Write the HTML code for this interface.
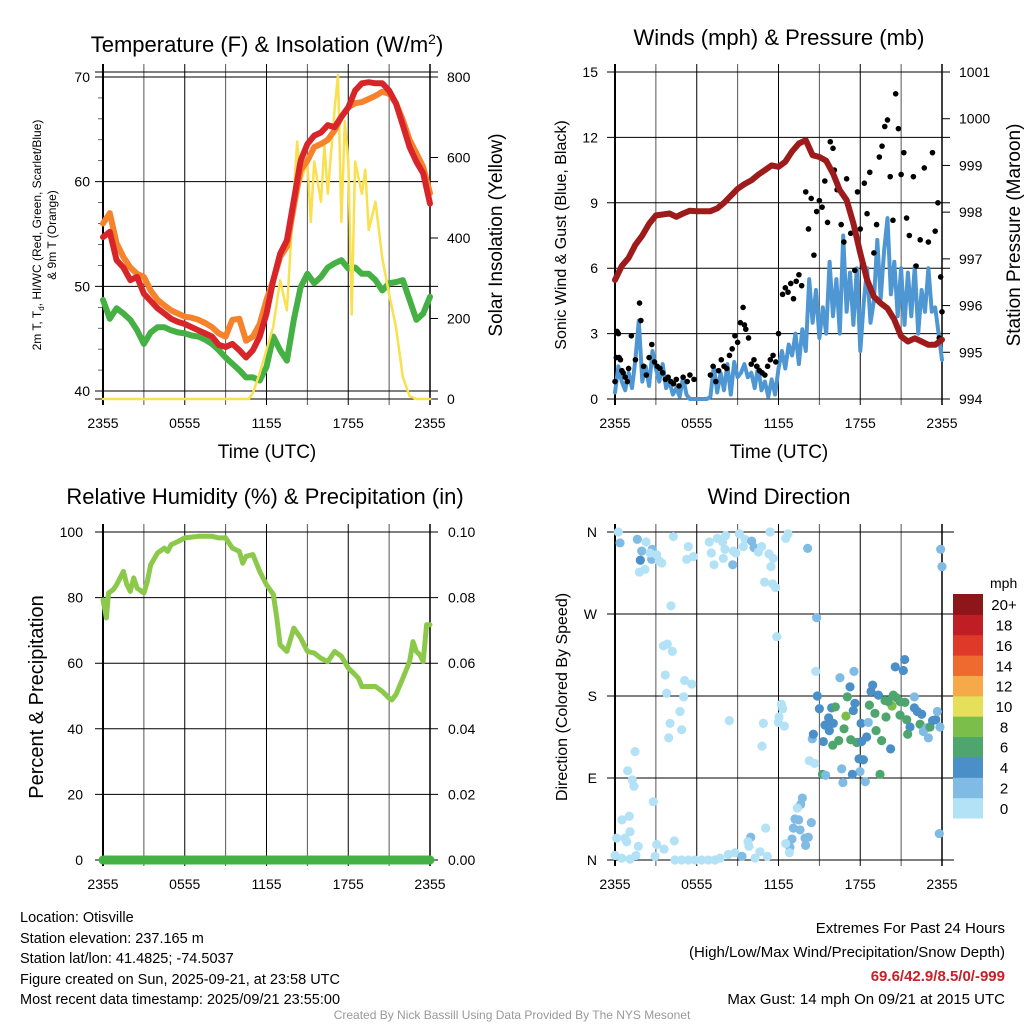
<!DOCTYPE html>
<html><head><meta charset="utf-8"><style>
body{margin:0;background:#fff}
svg{display:block;font-family:"Liberation Sans",sans-serif}
</style></head><body>
<svg id="s" width="1024" height="1024" viewBox="0 0 1024 1024" xmlns="http://www.w3.org/2000/svg">
<rect width="1024" height="1024" fill="#fff"/>
<g id="g1"></g>
<g id="g2"></g>
<g id="g3"></g>
<g id="g4"></g>
<text x="267" y="52" font-size="22" text-anchor="middle">Temperature (F) &amp; Insolation (W/m<tspan dy="-8" font-size="14">2</tspan><tspan dy="8">)</tspan></text>
<text x="779" y="45" font-size="22" text-anchor="middle">Winds (mph) &amp; Pressure (mb)</text>
<text x="265" y="504" font-size="22" text-anchor="middle">Relative Humidity (%) &amp; Precipitation (in)</text>
<text x="779" y="504" font-size="22" text-anchor="middle">Wind Direction</text>
<text x="267" y="458" font-size="19" text-anchor="middle">Time (UTC)</text>
<text x="779" y="458" font-size="19" text-anchor="middle">Time (UTC)</text>
<text transform="translate(41,235) rotate(-90)" font-size="12" text-anchor="middle">2m T, T<tspan font-size="8" dy="3">d</tspan><tspan dy="-3">, HI/WC (Red, Green, Scarlet/Blue)</tspan></text>
<text transform="translate(56,235) rotate(-90)" font-size="12" text-anchor="middle">&amp; 9m T (Orange)</text>
<text transform="translate(502,235) rotate(-90)" font-size="19" text-anchor="middle">Solar Insolation (Yellow)</text>
<text transform="translate(566,235) rotate(-90)" font-size="16" text-anchor="middle">Sonic Wind &amp; Gust (Blue, Black)</text>
<text transform="translate(1020,235) rotate(-90)" font-size="19" text-anchor="middle">Station Pressure (Maroon)</text>
<text transform="translate(43,697) rotate(-90)" font-size="20" text-anchor="middle">Percent &amp; Precipitation</text>
<text transform="translate(567,697) rotate(-90)" font-size="16" text-anchor="middle">Direction (Colored By Speed)</text>
<g font-size="14.5">
<text x="20" y="922">Location: Otisville</text>
<text x="20" y="943">Station elevation: 237.165 m</text>
<text x="20" y="963">Station lat/lon: 41.4825; -74.5037</text>
<text x="20" y="984">Figure created on Sun, 2025-09-21, at 23:58 UTC</text>
<text x="20" y="1004">Most recent data timestamp: 2025/09/21 23:55:00</text>
</g>
<g font-size="15" text-anchor="end">
<text x="1005" y="933">Extremes For Past 24 Hours</text>
<text x="1005" y="957">(High/Low/Max Wind/Precipitation/Snow Depth)</text>
<text x="1005" y="981" fill="#c8202a" font-weight="bold">69.6/42.9/8.5/0/-999</text>
<text x="1005" y="1004">Max Gust: 14 mph On 09/21 at 2015 UTC</text>
</g>
<text x="512" y="1019" font-size="12" fill="#999" text-anchor="middle">Created By Nick Bassill Using Data Provided By The NYS Mesonet</text>
</svg>
<script>
// ---- data (hours since 2355 UTC) ----
const tHours=[0,0.5,1,1.5,2,2.5,3,3.5,4,4.5,5,5.5,6,6.5,7,7.5,8,8.5,9,9.5,10,10.5,11,11.5,12,12.5,13,13.5,14,14.5,15,15.5,16,16.5,17,17.5,18,18.5,19,19.5,20,20.5,21,21.5,22,22.5,23,23.5,24];
const tempRed=[54.7,55.2,52.5,51.8,50.6,50.9,49.3,48.6,47.9,47.4,46.9,46.6,46.4,46.1,45.8,45.5,45.2,44.4,44.2,44.5,43.9,43.2,43.9,45.2,47.4,50.6,53.1,54.4,58.2,62,63.6,64.4,64.7,65.4,65.2,66.2,67.1,68.7,69.4,69.5,69.4,69.4,68.7,67.5,65.4,63.3,61.9,60.8,57.9];
const temp9m=[56,57,54.1,52.8,51.8,51.2,50.9,49.6,48.7,48.2,47.7,47.4,47.1,47,46.8,46.5,46.1,45.5,45.2,46.8,46.9,44.8,45.2,46.4,48.7,50.6,52.8,53.8,57.6,61.1,62,63.3,63.6,64,64.9,66.2,67.1,67.5,67.6,67.9,68.2,68.6,68.4,67.5,65.9,64,62.7,61.4,58.9];
const dewpt=[48.7,46.9,47.9,47.4,46.8,45.8,44.5,45.6,46.1,46.1,45.8,45.6,45.5,45.3,45.2,44.9,44.5,43.9,43.2,42.6,42,41.3,41.3,41,42.3,45.2,43.9,42.9,46.8,49.9,51.2,50.3,50.9,51.8,52.2,52.5,51.7,51.8,51.2,51.2,50.6,49.6,50.3,50.4,50.6,48.7,46.8,47.4,49];
const solarHours=[0,10.7,11,11.5,12,12.5,13,13.5,14,14.25,14.5,15,15.25,15.5,16,16.25,16.5,17,17.25,17.5,17.75,18,18.25,18.5,18.75,19,19.25,19.5,20,20.5,21,21.5,22,22.5,23,24];
const solar=[0,0,15,64,122,180,295,220,510,640,540,590,440,590,490,630,510,720,805,440,690,590,210,590,550,510,570,420,490,350,260,180,55,7,0,0];
const tempTicks=[40,50,60,70];
const solarTicks=[0,200,400,600,800];
const timeTicks=["2355","0555","1155","1755","2355"];

const presHours=[0,0.5,1,1.5,2,2.5,3,3.5,4,4.5,5,5.5,6,6.5,7,7.5,8,8.5,9,9.5,10,10.5,11,11.5,12,12.5,13,13.5,14,14.5,15,15.5,16,16.5,17,17.5,18,18.5,19,19.5,20,20.5,21,21.5,22,22.5,23,23.5,24];
const pressure=[996.55,996.85,997.02,997.3,997.5,997.75,997.93,997.95,997.97,997.9,997.97,998.03,998.02,998.02,998.02,998.08,998.2,998.35,998.5,998.6,998.68,998.8,998.9,999.0,998.97,999.08,999.3,999.47,999.54,999.22,999.18,999.1,998.83,998.47,998.26,997.76,997.12,996.55,996.19,996.05,995.94,995.7,995.34,995.23,995.3,995.23,995.16,995.16,995.27];
const windHours=[0,0.25,0.5,0.75,1,1.25,1.5,1.75,2,2.25,2.5,2.75,3,3.25,3.5,3.75,4,4.25,4.5,4.75,5,5.25,5.5,5.75,6,6.25,6.5,6.75,7,7.25,7.5,7.75,8,8.25,8.5,8.75,9,9.25,9.5,9.75,10,10.25,10.5,10.75,11,11.25,11.5,11.75,12,12.25,12.5,12.75,13,13.25,13.5,13.75,14,14.25,14.5,14.75,15,15.25,15.5,15.75,16,16.25,16.5,16.75,17,17.25,17.5,17.75,18,18.25,18.5,18.75,19,19.25,19.5,19.75,20,20.25,20.5,20.75,21,21.25,21.5,21.75,22,22.25,22.5,22.75,23,23.25,23.5,23.75,24];
const windSpd=[0.3,1.5,0.8,0.4,1.2,0.5,1.8,3.6,0.8,1.5,0.6,2.2,1.4,0.8,1.6,0.5,0.8,0.2,0.5,0.1,1.0,0.2,0,0,0,0,0,0,0.1,1.5,0.3,1.2,0.4,1.6,0.2,1.7,1.0,1.2,1.6,1.0,1.2,0.5,1.5,0.4,0.8,0.1,0.9,0.2,1.4,2.2,1.4,2.5,2.0,3.0,1.6,3.2,2.2,5.5,3.5,5.0,2.8,4.2,3.0,6.3,3.8,5.5,3.0,7.5,4.0,5.8,3.4,6.0,2.2,4.4,6.0,3.5,4.5,7.3,4.6,6.8,8.3,4.8,6.3,3.8,6.0,3.4,5.8,3.8,6.1,3.0,5.0,4.0,6.0,4.0,4.2,3.0,1.8];
const gustHours=[0,0.1,0.15,0.25,0.3,0.4,0.5,0.6,0.75,0.9,1.0,1.2,1.5,1.8,1.9,2.1,2.3,2.5,2.7,2.9,3.1,3.3,3.5,3.7,3.9,4.1,4.3,4.5,4.7,5.0,5.3,5.5,5.8,7.0,7.2,7.4,7.6,7.8,8.0,8.2,8.4,8.6,8.8,9.0,9.2,9.4,9.5,9.6,9.8,10.0,10.2,10.4,10.6,10.8,11.0,11.2,11.4,11.6,11.8,12.0,12.3,12.5,12.7,12.9,13.1,13.3,13.5,13.7,14.0,14.2,14.4,14.6,14.8,15.0,15.2,15.4,15.6,15.8,16.0,16.1,16.3,16.6,16.8,17.0,17.3,17.6,17.8,18.0,18.3,18.5,18.7,19.0,19.2,19.4,19.6,19.8,20.0,20.2,20.4,20.6,20.8,21.0,21.2,21.4,21.6,21.9,22.1,22.4,22.7,23.0,23.3,23.5,23.7,23.9,24.0,23.8];
const gustSpd=[0.8,1.9,3.1,3.0,1.9,1.8,1.3,1.2,1.0,0.8,1.4,2.9,1.8,4.4,3.6,1.5,1.1,1.9,2.5,1.7,1.5,1.4,1.2,0.9,1.0,0.8,0.7,0.9,0.6,1.0,0.8,1.1,0.9,1.1,1.5,0.8,1.3,1.8,1.5,1.4,2.0,2.3,2.9,2.6,3.5,4.2,3.4,3.2,2.8,1.6,1.8,1.5,1.3,1.2,1.1,1.5,1.8,2.0,1.7,3.0,4.8,5.1,4.9,5.3,4.6,5.4,5.7,5.2,9.5,7.8,9.2,6.6,8.6,9.1,8.8,10.0,8.1,11.8,11.5,10.5,9.6,8.0,7.2,10.1,7.6,5.9,9.5,7.8,9.9,8.5,10.4,6.7,8.0,11.1,11.6,12.5,12.8,10.2,8.2,14.0,12.4,10.3,11.3,8.3,7.5,10.2,6.1,7.3,10.6,7.2,11.3,7.7,9.0,5.6,4.0,2.8];
const windTicks=[0,3,6,9,12,15];
const presTicks=[994,995,996,997,998,999,1000,1001];

const rhHours=[0,0.25,0.4,0.75,1,1.5,1.75,2,2.25,2.5,3,3.25,3.5,4,4.5,4.75,5,5.5,6,7,8,8.5,9,9.5,10,10.25,10.5,11,11.5,12,12.5,12.75,13,13.5,14,14.5,15,15.5,16,16.5,17,17.5,18,18.5,18.75,19,19.5,20,20.5,21,21.2,21.5,22,22.5,22.75,23,23.25,23.5,23.75,24];
const rh=[79.3,73.8,81.4,82.4,83.9,88,84,81.9,86,82.9,81.4,84.9,90,93.6,95.1,94.1,96.1,97.1,98.2,98.7,98.7,98.2,98.2,95.1,94.1,90.5,92.6,93.1,88,83.9,81,74,65.6,63.6,70.7,67.7,63.6,63.1,61.5,60.5,63.6,62.1,58.5,56.5,55.4,52.9,52.9,52.9,51.4,49.3,48.8,50.4,55.4,60.5,66.6,63.6,62.6,60.5,71.7,71.7];
const precipHours=[0,24];
const precip=[0,0];
const rhTicks=[0,20,40,60,80,100];
const precipTicks=["0.00","0.02","0.04","0.06","0.08","0.10"];

const dirHours=[0.24,0.37,1.64,2.28,1.96,2.74,1.86,2.69,3.06,3.25,3.43,1.79,2.2,2.57,4.28,5.38,5.26,5.75,4.11,3.55,3.84,4.21,3.69,5.11,5.63,3.79,5.04,4.77,4.04,4.89,3.94,1.47,0.93,1.27,1.39,2.81,0.51,1.05,1.1,0.12,0.73,0.86,1.71,3.06,3.6,4.35,0,0.49,1.1,1.54,2.94,4.4,4.89,5.38,5.87,6.36,6.85,7.34,7.71,8.32,8.81,9.32,9.96,9.83,10.28,10.64,11.18,11.06,9.76,
6.92,7.51,8.12,7.9,7.07,7.95,7.27,8.64,8.07,8.69,9.13,9.54,10.03,10.2,9.42,10.76,8.86,10.52,11.38,11.3,11.62,11.45,10.98,11.57,11.79,12.7,12.53,14.14,11.87,8.39,10.89,10.79,12.21,12.31,12.04,11.99,12.43,
13.75,13.63,13.38,13.21,13.48,13.09,13.58,12.99,12.84,12.53,12.8,13.95,14.19,13.99,14.41,14.8,14.73,14.26,14.65,14.48,
14.56,14.85,15.0,15.68,15.41,15.29,15.9,16.02,15.73,16.17,15.98,16.42,16.95,16.81,16.51,17.25,17.54,17.05,17.61,17.49,17.3,17.74,18.1,18.47,18.06,18.59,17.91,18.23,17.98,17.42,16.73,16.64,15.22,15.46,18.37,19.45,18.91,18.79,19.33,18.67,19.08,19.16,19.57,20.23,19.82,19.89,20.43,20.33,20.57,21.16,21.26,20.67,20.92,21.28,21.41,21.65,21.48,21.97,21.97,22.39,22.19,22.51,22.87,22.63,23.0,23.12,23.31,23.54,23.66,23.85,23.9,24.0,23.8,20.92,20.06];
const dirDeg=[360,348,352,349,339,341,329,330,335,328,326,316,319,337,355,344,330,333,279,235,237,229,203,197,193,183,179,163,150,143,134,119,98,88,81,64,44,48,31,24,24,20,15,17,12,21,5,2,1,5,4,0,0,0,0,0,0,0,2,6,8,4,25,15,2,9,4,35,20,
349,353,356,349,337,331,324,324,341,339,358,352,350,343,344,344,337,338,360,336,331,322,305,303,299,358,353,342,245,153,150,125,171,166,157,151,147,
68,61,57,45,44,35,33,23,14,18,8,24,25,16,41,266,207,109,106,133,
138,180,166,156,148,130,167,150,142,168,126,131,158,144,200,190,207,179,172,164,132,129,130,135,150,151,111,110,97,94,85,100,94,93,86,94,192,185,181,170,161,142,131,122,175,157,181,169,212,208,220,178,159,173,154,146,138,179,167,149,163,160,145,141,134,146,153,154,163,146,341,322,29,174,174];
const dirSpd=[0,2,2,0,2,2,4,2,0,0,0,0,0,0,0,0,0,0,0,0,0,0,0,0,0,0,0,0,0,0,0,0,0,0,0,0,0,0,0,0,0,0,0,0,0,0,0,0,0,0,0,0,0,0,0,0,0,0,0,0,0,2,2,0,0,0,0,0,0,
0,0,0,0,0,0,0,2,0,0,0,0,2,2,0,0,0,0,0,0,0,0,0,0,0,0,0,2,0,0,0,0,0,0,0,0,0,
2,2,0,2,2,2,2,2,2,0,0,2,2,2,2,2,0,0,0,2,
4,4,4,4,4,4,4,4,4,6,6,6,8,6,2,4,2,6,4,4,6,6,4,4,4,2,4,4,2,4,2,2,6,2,2,6,4,4,4,6,6,6,6,4,6,6,6,8,4,4,4,6,6,6,6,4,6,2,4,6,4,4,2,2,2,6,4,4,2,2,2,2,2,6,6];
const spdLevels=["0","2","4","6","8","10","12","14","16","18","20+"];
const spdColors=["#b3e2f7","#7fbbe4","#4a8fc8","#4ea66e","#7bbf4a","#e6df5a","#f5a948","#ef6a2f","#df3a29","#bf1e24","#8e1519"];
const dirTicks=["N","E","S","W","N"];

// ---- helpers ----
const NS="http://www.w3.org/2000/svg";
function el(parent,tag,attrs){const e=document.createElementNS(NS,tag);for(const k in attrs)e.setAttribute(k,attrs[k]);parent.appendChild(e);return e;}
function lin(d0,d1,r0,r1){return v=>r0+(v-d0)*(r1-r0)/(d1-d0);}
function frame(g,x0,x1,y0,y1,name){
  const xs=lin(0,24,x0,x1);
  for(let h=0;h<=24;h+=3){
    const ln=el(g,'line',{x1:xs(h),x2:xs(h),y1:y0-8,y2:y1+6,stroke:(h%6===0)?'#000':'#555','stroke-width':1});
    
    
  }
  const fr=el(g,'rect',{x:x0,y:y0,width:x1-x0,height:y1-y0,fill:'none',stroke:'#000','stroke-width':0});
  
  
  el(g,'line',{x1:x0,x2:x0,y1:y0-8,y2:y1+6,stroke:'#000','stroke-width':2});
  el(g,'line',{x1:x1,x2:x1,y1:y0-8,y2:y1+6,stroke:'#000','stroke-width':1.5});
  timeTicks.forEach((t,i)=>{
    const tx=el(g,'text',{x:xs(i*6),y:y1+29,'font-size':14,'text-anchor':'middle'});
    tx.textContent=t;
    
    
  });
  return xs;
}
function hgrid(g,x0,x1,y,col){el(g,'line',{x1:x0-8,x2:x1+8,y1:y,y2:y,stroke:col||'#000','stroke-width':1});}
function leftLabel(g,x,y,t){const tx=el(g,'text',{x:x,y:y+5,'font-size':14,'text-anchor':'end'});tx.textContent=t;}
function rightLabel(g,x,y,t){const tx=el(g,'text',{x:x,y:y+5,'font-size':14,'text-anchor':'start'});tx.textContent=t;}
function path(g,xsArr,ysArr,xs,ys,attrs,name){
  const d=xsArr.map((h,i)=>(i?'L':'M')+xs(h).toFixed(1)+','+ys(ysArr[i]).toFixed(1)).join('');
  const p=el(g,'path',Object.assign({d:d,fill:'none','stroke-linejoin':'round','stroke-linecap':'round'},attrs));
  
  
  return p;
}

// ---- panel 1: temperature ----
(function(){
  const g=document.getElementById('g1');const x0=103,x1=430,yT=72,yB=399;
  const xs=frame(g,x0,x1,yT,yB,'temp');
  const yt=lin(40,70,391,77), ys=lin(0,800,399,77);
  tempTicks.forEach(v=>{hgrid(g,x0,x1,yt(v));leftLabel(g,x0-13,yt(v),String(v));});
  for(let v=42;v<70;v+=2){if(v%10)el(g,'line',{x1:x0-5,x2:x0,y1:yt(v),y2:yt(v),stroke:'#000','stroke-width':0.6});}
  solarTicks.forEach(v=>{el(g,'line',{x1:x1,x2:x1+8,y1:ys(v),y2:ys(v),stroke:'#000'});rightLabel(g,x1+17,ys(v),String(v));});
  hgrid(g,x0,x1,yT);hgrid(g,x0,x1,yB);
  path(g,tHours,dewpt,xs,yt,{stroke:'#45b044','stroke-width':6},'dewpoint-line');
  path(g,solarHours,solar,xs,ys,{stroke:'#f9e04e','stroke-width':2.5},'solar-line');
  path(g,tHours,temp9m,xs,yt,{stroke:'#f5832b','stroke-width':6},'temp-9m-line');
  path(g,tHours,tempRed,xs,yt,{stroke:'#d7252a','stroke-width':6},'temp-2m-line');
})();

// ---- panel 2: wind & pressure ----
(function(){
  const g=document.getElementById('g2');const x0=615,x1=942,yT=72,yB=399;
  const xs=frame(g,x0,x1,yT,yB,'wind');
  const yw=lin(0,15,399,72), yp=lin(994,1001,399,72);
  windTicks.forEach(v=>{hgrid(g,x0,x1,yw(v));leftLabel(g,x0-17,yw(v),String(v));});
  presTicks.forEach(v=>{el(g,'line',{x1:x1,x2:x1+8,y1:yp(v),y2:yp(v),stroke:'#000'});rightLabel(g,x1+17,yp(v),String(v));});
  path(g,windHours,windSpd,xs,yw,{stroke:'#4f97d3','stroke-width':4},'wind-speed-line');
  gustHours.forEach((h,i)=>{
    const c=el(g,'circle',{cx:xs(h),cy:yw(gustSpd[i]),r:2.8,fill:'#000'});
    
    
  });
  path(g,presHours,pressure,xs,yp,{stroke:'#9e1b1b','stroke-width':6},'pressure-line');
})();

// ---- panel 3: humidity ----
(function(){
  const g=document.getElementById('g3');const x0=103,x1=430,yT=532,yB=860;
  const xs=frame(g,x0,x1,yT,yB,'rh');
  const yr=lin(0,100,860,532);
  rhTicks.forEach((v,i)=>{hgrid(g,x0,x1,yr(v));leftLabel(g,x0-20,yr(v),String(v));rightLabel(g,x1+18,yr(v),precipTicks[i]);});
  path(g,rhHours,rh,xs,yr,{stroke:'#8cc94a','stroke-width':5},'humidity-line');
  const yq=lin(0,0.1,860,532);
  path(g,precipHours,precip,xs,yq,{stroke:'#45b044','stroke-width':9},'precip-line');
})();

// ---- panel 4: wind direction ----
(function(){
  const g=document.getElementById('g4');const x0=615,x1=942,yT=532,yB=860;
  const xs=frame(g,x0,x1,yT,yB,'dir');
  const yd=lin(0,360,860,532);
  dirTicks.forEach((t,i)=>{hgrid(g,x0,x1+4,yd(i*90));leftLabel(g,x0-18,yd(i*90),t);});
  dirHours.forEach((h,i)=>{
    const c=el(g,'circle',{cx:xs(h),cy:yd(dirDeg[i]),r:4.6,fill:spdColors[dirSpd[i]/2|0]});
    
    
  });
  const bx=953,bw=30,bh=(818-594)/spdLevels.length;
  const t=el(g,'text',{x:990,y:588,'font-size':14});t.textContent='mph';
  
  
  spdLevels.forEach((lab,i)=>{
    const y=818-(i+1)*bh;
    const r=el(g,'rect',{x:bx,y:y,width:bw,height:bh+0.5,fill:spdColors[i]});
    
    
    const tx=el(g,'text',{x:1004,y:y+bh/2+6,'font-size':15,'text-anchor':'middle'});tx.textContent=lab;
    
    
  });
})();
</script>
</body></html>
